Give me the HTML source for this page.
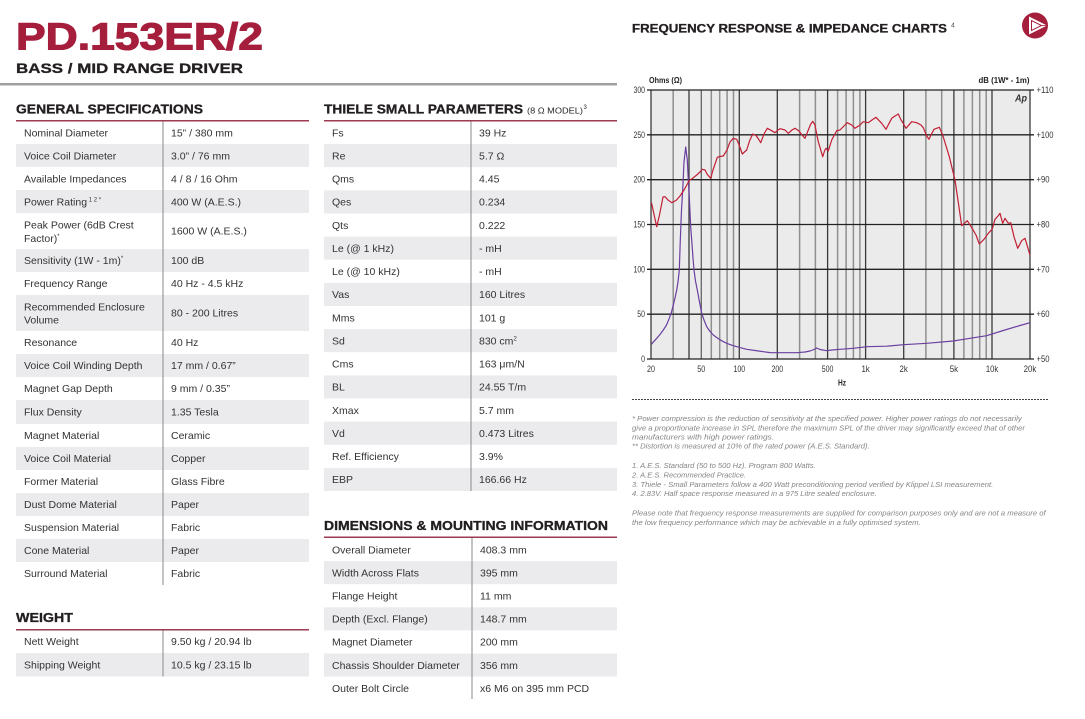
<!DOCTYPE html>
<html>
<head>
<meta charset="utf-8">
<style>
  html,body{margin:0;padding:0;background:#fff;}
  body{width:1085px;height:719px;overflow:hidden;}
  svg{display:block;}
  .t{font-family:"Liberation Sans",Arial,sans-serif;}
</style>
</head>
<body>
<svg width="1085" height="719" viewBox="0 0 1085 719" xmlns="http://www.w3.org/2000/svg" class="t">
  <rect width="1085" height="719" fill="#fff"/>

  <!-- Title -->
  <text x="16" y="49.3" font-size="38" font-weight="bold" fill="#a51f3d" stroke="#a51f3d" stroke-width="1.1" textLength="247" lengthAdjust="spacingAndGlyphs">PD.153ER/2</text>
  <text x="16" y="73" font-size="14" font-weight="bold" fill="#231f20" stroke="#231f20" stroke-width="0.3" textLength="227" lengthAdjust="spacingAndGlyphs">BASS / MID RANGE DRIVER</text>
  <rect x="0" y="83" width="617" height="2.5" fill="#a0a0a0"/>

  <!-- ===== GENERAL SPECIFICATIONS ===== -->
  <text x="16" y="113.5" font-size="12.5" font-weight="bold" fill="#231f20" stroke="#231f20" stroke-width="0.3" textLength="187" lengthAdjust="spacingAndGlyphs">GENERAL SPECIFICATIONS</text>
  <rect x="16" y="120" width="293" height="1.5" fill="#9e3a50"/>
  <g fill="#ebebed">
    <rect x="16" y="144" width="293" height="23"/>
    <rect x="16" y="190" width="293" height="23"/>
    <rect x="16" y="249" width="293" height="23"/>
    <rect x="16" y="295" width="293" height="36"/>
    <rect x="16" y="354" width="293" height="23"/>
    <rect x="16" y="400" width="293" height="24"/>
    <rect x="16" y="447" width="293" height="23"/>
    <rect x="16" y="493" width="293" height="23"/>
    <rect x="16" y="539" width="293" height="23"/>
  </g>
  <rect x="162.5" y="121.5" width="1" height="463.5" fill="#8a8a8a"/>
  <g font-size="10.5" fill="#333">
    <text x="24" y="136.7">Nominal Diameter</text><text x="171" y="136.7">15” / 380 mm</text>
    <text x="24" y="159.7">Voice Coil Diameter</text><text x="171" y="159.7">3.0” / 76 mm</text>
    <text x="24" y="182.7">Available Impedances</text><text x="171" y="182.7">4 / 8 / 16 Ohm</text>
    <text x="24" y="205.7">Power Rating<tspan font-size="6" dy="-4"> 1 2 *</tspan></text><text x="171" y="205.7">400 W (A.E.S.)</text>
    <text x="24" y="228.7">Peak Power (6dB Crest</text><text x="24" y="242">Factor)<tspan font-size="6" dy="-4">*</tspan></text><text x="171" y="234.7">1600 W (A.E.S.)</text>
    <text x="24" y="264.2">Sensitivity (1W - 1m)<tspan font-size="6" dy="-4">*</tspan></text><text x="171" y="264.2">100 dB</text>
    <text x="24" y="287.2">Frequency Range</text><text x="171" y="287.2">40 Hz - 4.5 kHz</text>
    <text x="24" y="310.5">Recommended Enclosure</text><text x="24" y="323.5">Volume</text><text x="171" y="316.7">80 - 200 Litres</text>
    <text x="24" y="346.2">Resonance</text><text x="171" y="346.2">40 Hz</text>
    <text x="24" y="369.2">Voice Coil Winding Depth</text><text x="171" y="369.2">17 mm / 0.67”</text>
    <text x="24" y="392.2">Magnet Gap Depth</text><text x="171" y="392.2">9 mm / 0.35”</text>
    <text x="24" y="415.7">Flux Density</text><text x="171" y="415.7">1.35 Tesla</text>
    <text x="24" y="439.2">Magnet Material</text><text x="171" y="439.2">Ceramic</text>
    <text x="24" y="462.2">Voice Coil Material</text><text x="171" y="462.2">Copper</text>
    <text x="24" y="485.2">Former Material</text><text x="171" y="485.2">Glass Fibre</text>
    <text x="24" y="508.2">Dust Dome Material</text><text x="171" y="508.2">Paper</text>
    <text x="24" y="531.2">Suspension Material</text><text x="171" y="531.2">Fabric</text>
    <text x="24" y="554.2">Cone Material</text><text x="171" y="554.2">Paper</text>
    <text x="24" y="577.2">Surround Material</text><text x="171" y="577.2">Fabric</text>
  </g>

  <!-- ===== WEIGHT ===== -->
  <text x="16" y="622" font-size="12.5" font-weight="bold" fill="#231f20" stroke="#231f20" stroke-width="0.3" textLength="57" lengthAdjust="spacingAndGlyphs">WEIGHT</text>
  <rect x="16" y="629" width="293" height="1.5" fill="#9e3a50"/>
  <rect x="16" y="653" width="293" height="23.5" fill="#ebebed"/>
  <rect x="162.5" y="630.5" width="1" height="46" fill="#8a8a8a"/>
  <g font-size="10.5" fill="#333">
    <text x="24" y="645.2">Nett Weight</text><text x="171" y="645.2">9.50 kg / 20.94 lb</text>
    <text x="24" y="668.5">Shipping Weight</text><text x="171" y="668.5">10.5 kg / 23.15 lb</text>
  </g>

  <!-- ===== THIELE SMALL ===== -->
  <text x="324" y="113.5" font-size="12.5" font-weight="bold" fill="#231f20" stroke="#231f20" stroke-width="0.3" textLength="199" lengthAdjust="spacingAndGlyphs">THIELE SMALL PARAMETERS</text>
  <text x="527" y="113.5" font-size="8.5" fill="#231f20" textLength="56" lengthAdjust="spacingAndGlyphs">(8 Ω MODEL)</text>
  <text x="583.5" y="109" font-size="6" fill="#231f20">3</text>
  <rect x="324" y="120" width="293" height="1.5" fill="#9e3a50"/>
  <g fill="#ebebed">
    <rect x="324" y="144.1" width="293" height="23.1"/>
    <rect x="324" y="190.4" width="293" height="23.1"/>
    <rect x="324" y="236.6" width="293" height="23.1"/>
    <rect x="324" y="282.9" width="293" height="23.1"/>
    <rect x="324" y="329.1" width="293" height="23.1"/>
    <rect x="324" y="375.4" width="293" height="23.1"/>
    <rect x="324" y="421.6" width="293" height="23.1"/>
    <rect x="324" y="467.9" width="293" height="23.1"/>
  </g>
  <rect x="470.5" y="121.5" width="1" height="369.5" fill="#8a8a8a"/>
  <g font-size="10.5" fill="#333">
    <text x="332" y="136.3">Fs</text><text x="479" y="136.3">39 Hz</text>
    <text x="332" y="159.4">Re</text><text x="479" y="159.4">5.7 Ω</text>
    <text x="332" y="182.5">Qms</text><text x="479" y="182.5">4.45</text>
    <text x="332" y="205.6">Qes</text><text x="479" y="205.6">0.234</text>
    <text x="332" y="228.8">Qts</text><text x="479" y="228.8">0.222</text>
    <text x="332" y="251.9">Le (@ 1 kHz)</text><text x="479" y="251.9">- mH</text>
    <text x="332" y="275">Le (@ 10 kHz)</text><text x="479" y="275">- mH</text>
    <text x="332" y="298.1">Vas</text><text x="479" y="298.1">160 Litres</text>
    <text x="332" y="321.3">Mms</text><text x="479" y="321.3">101 g</text>
    <text x="332" y="344.4">Sd</text><text x="479" y="344.4">830 cm<tspan font-size="6" dy="-4">2</tspan></text>
    <text x="332" y="367.5">Cms</text><text x="479" y="367.5">163 μm/N</text>
    <text x="332" y="390.6">BL</text><text x="479" y="390.6">24.55 T/m</text>
    <text x="332" y="413.8">Xmax</text><text x="479" y="413.8">5.7 mm</text>
    <text x="332" y="436.9">Vd</text><text x="479" y="436.9">0.473 Litres</text>
    <text x="332" y="460">Ref. Efficiency</text><text x="479" y="460">3.9%</text>
    <text x="332" y="483.1">EBP</text><text x="479" y="483.1">166.66 Hz</text>
  </g>

  <!-- ===== DIMENSIONS ===== -->
  <text x="324" y="530" font-size="12.5" font-weight="bold" fill="#231f20" stroke="#231f20" stroke-width="0.3" textLength="284" lengthAdjust="spacingAndGlyphs">DIMENSIONS &amp; MOUNTING INFORMATION</text>
  <rect x="324" y="536.5" width="293" height="1.5" fill="#9e3a50"/>
  <g fill="#ebebed">
    <rect x="324" y="561.1" width="293" height="23.1"/>
    <rect x="324" y="607.3" width="293" height="23.1"/>
    <rect x="324" y="653.5" width="293" height="23.1"/>
  </g>
  <rect x="471.5" y="538" width="1" height="161" fill="#8a8a8a"/>
  <g font-size="10.5" fill="#333">
    <text x="332" y="553.3">Overall Diameter</text><text x="480" y="553.3">408.3 mm</text>
    <text x="332" y="576.4">Width Across Flats</text><text x="480" y="576.4">395 mm</text>
    <text x="332" y="599.5">Flange Height</text><text x="480" y="599.5">11 mm</text>
    <text x="332" y="622.6">Depth (Excl. Flange)</text><text x="480" y="622.6">148.7 mm</text>
    <text x="332" y="645.7">Magnet Diameter</text><text x="480" y="645.7">200 mm</text>
    <text x="332" y="668.8">Chassis Shoulder Diameter</text><text x="480" y="668.8">356 mm</text>
    <text x="332" y="691.9">Outer Bolt Circle</text><text x="480" y="691.9">x6 M6 on 395 mm PCD</text>
  </g>

  <!-- ===== CHART HEADER ===== -->
  <text x="632" y="32.7" font-size="12" font-weight="bold" fill="#231f20" stroke="#231f20" stroke-width="0.3" textLength="315" lengthAdjust="spacingAndGlyphs">FREQUENCY RESPONSE &amp; IMPEDANCE CHARTS</text>
  <text x="951" y="27.5" font-size="7" fill="#555">4</text>
  <!-- logo -->
  <circle cx="1035" cy="25.5" r="13" fill="#a51f3d"/>
  <polygon points="1029,16.5 1029,34.5 1047,25.5" fill="#fff"/>
  <polygon points="1031.5,20.5 1031.5,30.5 1041.5,25.5" fill="none" stroke="#a51f3d" stroke-width="1"/>
  <line x1="1041.5" y1="25.5" x2="1048" y2="25.5" stroke="#a51f3d" stroke-width="0.8"/>

  <!-- ===== CHART ===== -->
  <text x="649" y="83" font-size="8.5" font-weight="bold" fill="#222" textLength="33" lengthAdjust="spacingAndGlyphs">Ohms (Ω)</text>
  <text x="978.5" y="83" font-size="8.5" font-weight="bold" fill="#222" textLength="51" lengthAdjust="spacingAndGlyphs">dB (1W* - 1m)</text>

  <rect x="651" y="90" width="379" height="269" fill="#ebebeb"/>
  <!-- minor verticals -->
  <g stroke="#8f8f8f" stroke-width="1.5">
    <line x1="673.2" y1="90" x2="673.2" y2="359"/>
    <line x1="711.3" y1="90" x2="711.3" y2="359"/>
    <line x1="719.7" y1="90" x2="719.7" y2="359"/>
    <line x1="727.1" y1="90" x2="727.1" y2="359"/>
    <line x1="733.5" y1="90" x2="733.5" y2="359"/>
    <line x1="799.6" y1="90" x2="799.6" y2="359"/>
    <line x1="815.4" y1="90" x2="815.4" y2="359"/>
    <line x1="837.6" y1="90" x2="837.6" y2="359"/>
    <line x1="846.1" y1="90" x2="846.1" y2="359"/>
    <line x1="853.4" y1="90" x2="853.4" y2="359"/>
    <line x1="859.9" y1="90" x2="859.9" y2="359"/>
    <line x1="925.9" y1="90" x2="925.9" y2="359"/>
    <line x1="941.7" y1="90" x2="941.7" y2="359"/>
    <line x1="963.9" y1="90" x2="963.9" y2="359"/>
    <line x1="972.4" y1="90" x2="972.4" y2="359"/>
    <line x1="979.7" y1="90" x2="979.7" y2="359"/>
    <line x1="986.2" y1="90" x2="986.2" y2="359"/>
  </g>
  <!-- major verticals -->
  <g stroke="#3a3a3a" stroke-width="1.3">
    <line x1="689" y1="90" x2="689" y2="359"/>
    <line x1="701.3" y1="90" x2="701.3" y2="359" stroke="#666"/>
    <line x1="739.3" y1="90" x2="739.3" y2="359"/>
    <line x1="777.3" y1="90" x2="777.3" y2="359"/>
    <line x1="827.6" y1="90" x2="827.6" y2="359"/>
    <line x1="865.6" y1="90" x2="865.6" y2="359"/>
    <line x1="903.7" y1="90" x2="903.7" y2="359"/>
    <line x1="953.9" y1="90" x2="953.9" y2="359"/>
    <line x1="992" y1="90" x2="992" y2="359"/>
    <line x1="651" y1="90" x2="651" y2="359"/>
    <line x1="1030" y1="90" x2="1030" y2="359"/>
  </g>
  <!-- horizontals -->
  <g stroke="#222" stroke-width="1.3">
    <line x1="647" y1="90" x2="1034" y2="90"/>
    <line x1="647" y1="134.8" x2="1034" y2="134.8"/>
    <line x1="647" y1="179.7" x2="1034" y2="179.7"/>
    <line x1="647" y1="224.5" x2="1034" y2="224.5"/>
    <line x1="647" y1="269.3" x2="1034" y2="269.3"/>
    <line x1="647" y1="314.2" x2="1034" y2="314.2"/>
    <line x1="647" y1="359" x2="1034" y2="359"/>
  </g>

  <text x="1015" y="101.5" font-size="10" font-style="italic" font-weight="bold" fill="#333" textLength="12" lengthAdjust="spacingAndGlyphs">Ap</text>

  <!-- impedance (purple) -->
  <polyline fill="none" stroke="#6b3fa0" stroke-width="1.2" stroke-linejoin="round" points="651.3,344.3 656.7,338.3 660,334.5 663.3,330 666.5,325 669.3,318.3 671.5,312 673.3,305 675,298 676.7,290 678,282 679.3,270 680.3,240 681.5,210 682.7,190 684,162 685.7,147 687.3,160 688.3,180 689.3,197 690.7,227 691.7,240 693,258 694,270 695.5,281 697.3,290 699.5,302 701.7,313.3 704,320 706.7,326.7 710,331.5 713.3,335 718,338.5 723.3,341.7 728,343.8 733.3,345.7 740,347.6 746.7,349.3 755,350.5 763.3,351.7 770,352.6 776.7,352.7 796.7,352.7 805,352 810,351 814,349.5 816.7,348 820,349.5 826.7,350.7 832,350 840,349.3 853.3,348.3 866.7,346.7 886.7,346.2 903.3,344.7 926.7,343.3 953.3,341 970,338.3 986.7,335.7 1003.3,330.5 1020,325.5 1030,322.7"/>

  <!-- frequency response (red) -->
  <polyline fill="none" stroke="#c21f35" stroke-width="1.2" stroke-linejoin="round" points="651.5,202.7 656.7,226.7 659.5,215 663,197 665,196.7 668,200 671.7,202.7 676,200.5 680,196 684,190 689.3,180.5 693,178 696.7,175 700,172 702.3,169.3 705,170 707,174 710.7,178.3 713,170 717.3,157.3 720,156.5 723.3,156 727,150 730,142 733.3,138.3 736.7,139.3 739.5,146 742.3,154 746.7,150 749.5,141 752.7,134 756,135.5 758.5,139 760.7,142.7 764,134 767.3,128.3 771.7,130.7 775,132.7 778,130 780,128.7 785,130 788.3,133.3 792,130 795,128.3 799,131 802,135 805,138.3 808.3,130 810.5,124.5 812.7,121.3 815,125 816.5,133 818.3,141.7 822.7,156.7 824.5,151 826,148.3 828.3,151 831.7,140 836.7,130.7 840,130 844,126 847.3,122.7 851.7,125 855,128.3 860,125 863.3,121.7 868.3,122.7 872,120 876,117.3 881.7,123.3 886,129.3 891.7,118.3 895,116 898.3,114 900.7,119.3 903,123 906,128.3 911.7,121.7 916.7,122.7 921,125 923.3,127.7 926.7,136 929,139.3 931.5,134 934,129.3 939.3,127.3 942.7,135 949.3,156.7 955,180 961.7,225.7 967.3,220.7 972.7,229.3 976,235 979.3,244 984,239.3 988.3,233.3 992.3,229 995,219.3 998,216 1000,213.3 1002.7,223.3 1005,218.3 1008.3,223.3 1010.7,222.7 1014,236.7 1017.7,248.3 1021.7,240.7 1025,238.3 1030,255"/>

  <!-- left axis labels -->
  <g font-size="9" fill="#333" text-anchor="end">
    <text x="645" y="93" textLength="11.5" lengthAdjust="spacingAndGlyphs">300</text>
    <text x="645" y="137.8" textLength="11.5" lengthAdjust="spacingAndGlyphs">250</text>
    <text x="645" y="182.7" textLength="11.5" lengthAdjust="spacingAndGlyphs">200</text>
    <text x="645" y="227.5" textLength="11.5" lengthAdjust="spacingAndGlyphs">150</text>
    <text x="645" y="272.3" textLength="11.5" lengthAdjust="spacingAndGlyphs">100</text>
    <text x="645" y="317.2" textLength="7.7" lengthAdjust="spacingAndGlyphs">50</text>
    <text x="645" y="362" textLength="3.9" lengthAdjust="spacingAndGlyphs">0</text>
  </g>
  <!-- right axis labels -->
  <g font-size="9" fill="#333">
    <text x="1036.5" y="93" textLength="17" lengthAdjust="spacingAndGlyphs">+110</text>
    <text x="1036.5" y="137.8" textLength="17" lengthAdjust="spacingAndGlyphs">+100</text>
    <text x="1036.5" y="182.7" textLength="13" lengthAdjust="spacingAndGlyphs">+90</text>
    <text x="1036.5" y="227.5" textLength="13" lengthAdjust="spacingAndGlyphs">+80</text>
    <text x="1036.5" y="272.3" textLength="13" lengthAdjust="spacingAndGlyphs">+70</text>
    <text x="1036.5" y="317.2" textLength="13" lengthAdjust="spacingAndGlyphs">+60</text>
    <text x="1036.5" y="362" textLength="13" lengthAdjust="spacingAndGlyphs">+50</text>
  </g>
  <!-- bottom axis labels -->
  <g font-size="9" fill="#333" text-anchor="middle">
    <text x="651" y="372" textLength="8" lengthAdjust="spacingAndGlyphs">20</text>
    <text x="701.3" y="372" textLength="8" lengthAdjust="spacingAndGlyphs">50</text>
    <text x="739.3" y="372" textLength="11.7" lengthAdjust="spacingAndGlyphs">100</text>
    <text x="777.3" y="372" textLength="11.7" lengthAdjust="spacingAndGlyphs">200</text>
    <text x="827.6" y="372" textLength="11.7" lengthAdjust="spacingAndGlyphs">500</text>
    <text x="865.6" y="372" textLength="8.3" lengthAdjust="spacingAndGlyphs">1k</text>
    <text x="903.7" y="372" textLength="8.3" lengthAdjust="spacingAndGlyphs">2k</text>
    <text x="953.9" y="372" textLength="8.3" lengthAdjust="spacingAndGlyphs">5k</text>
    <text x="992" y="372" textLength="12.3" lengthAdjust="spacingAndGlyphs">10k</text>
    <text x="1030" y="372" textLength="12.7" lengthAdjust="spacingAndGlyphs">20k</text>
  </g>
  <text x="842" y="385.5" font-size="8.5" font-weight="bold" fill="#222" text-anchor="middle" textLength="8" lengthAdjust="spacingAndGlyphs">Hz</text>

  <line x1="632" y1="399.5" x2="1049" y2="399.5" stroke="#444" stroke-width="0.9" stroke-dasharray="2,1"/>

  <!-- notes -->
  <g font-size="7.2" font-style="italic" fill="#858585">
    <text x="632" y="421" textLength="389.7" lengthAdjust="spacingAndGlyphs">* Power compression is the reduction of sensitivity at the specified power. Higher power ratings do not necessarily</text>
    <text x="632" y="430.5" textLength="393" lengthAdjust="spacingAndGlyphs">give a proportionate increase in SPL therefore the maximum SPL of the driver may significantly exceed that of other</text>
    <text x="632" y="439.5" textLength="142" lengthAdjust="spacingAndGlyphs">manufacturers with high power ratings.</text>
    <text x="632" y="448.5" textLength="237.7" lengthAdjust="spacingAndGlyphs">** Distortion is measured at 10% of the rated power (A.E.S. Standard).</text>
    <text x="632" y="468" textLength="183.7" lengthAdjust="spacingAndGlyphs">1. A.E.S. Standard (50 to 500 Hz). Program 800 Watts.</text>
    <text x="632" y="477.3" textLength="114" lengthAdjust="spacingAndGlyphs">2. A.E.S. Recommended Practice.</text>
    <text x="632" y="486.8" textLength="361.3" lengthAdjust="spacingAndGlyphs">3. Thiele - Small Parameters follow a 400 Watt preconditioning period verified by Klippel LSI measurement.</text>
    <text x="632" y="496.2" textLength="244.7" lengthAdjust="spacingAndGlyphs">4. 2.83V. Half space response measured in a 975 Litre sealed enclosure.</text>
    <text x="632" y="515.7" textLength="413.7" lengthAdjust="spacingAndGlyphs">Please note that frequency response measurements are supplied for comparison purposes only and are not a measure of</text>
    <text x="632" y="525.2" textLength="288.7" lengthAdjust="spacingAndGlyphs">the low frequency performance which may be achievable in a fully optimised system.</text>
  </g>
</svg>
</body>
</html>
